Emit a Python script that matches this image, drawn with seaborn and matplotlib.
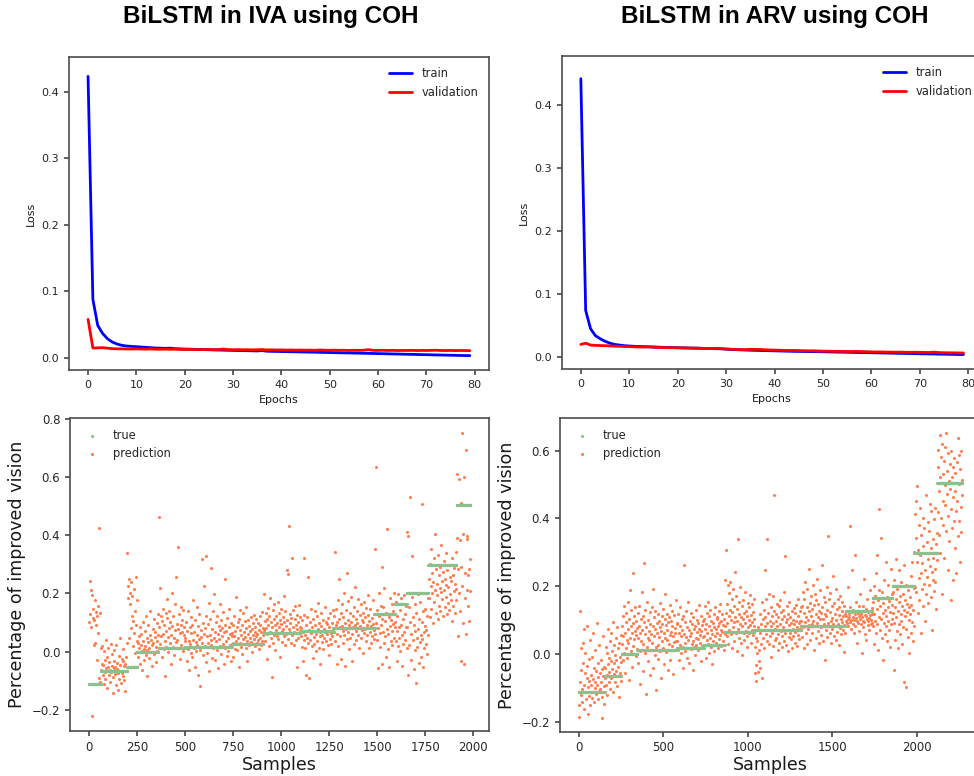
import numpy as np
import pandas as pd
import matplotlib
matplotlib.use("Agg")
import matplotlib.pyplot as plt
from matplotlib import font_manager
import seaborn as sns

# ---------------- data ----------------
epochs = list(range(80))

iva_train = [0.423, 0.088, 0.049, 0.037, 0.029, 0.024, 0.021, 0.019, 0.018, 0.0175,
             0.017, 0.0165, 0.016, 0.0155, 0.015, 0.0148, 0.0145, 0.0148, 0.014, 0.0138,
             0.0135, 0.0133, 0.013, 0.0128, 0.0126, 0.0124, 0.0122, 0.012, 0.0118, 0.0116,
             0.0114, 0.0113, 0.0111, 0.011, 0.0108, 0.0106, 0.0112, 0.0102, 0.0100, 0.0099,
             0.0097, 0.0096, 0.0094, 0.0093, 0.0091, 0.009, 0.0088, 0.0087, 0.0085, 0.0084,
             0.0082, 0.0080, 0.0079, 0.0077, 0.0076, 0.0074, 0.0073, 0.0071, 0.0070, 0.0068,
             0.0066, 0.0065, 0.0063, 0.0061, 0.0060, 0.0058, 0.0056, 0.0055, 0.0053, 0.0051,
             0.0050, 0.0048, 0.0046, 0.0045, 0.0043, 0.0042, 0.0040, 0.0038, 0.0037, 0.0036]
iva_val = [0.058, 0.015, 0.0152, 0.0155, 0.0148, 0.014, 0.0138, 0.0137, 0.0136, 0.0135,
           0.0138, 0.0134, 0.0133, 0.0136, 0.0132, 0.0131, 0.0134, 0.013, 0.0132, 0.0129,
           0.0128, 0.013, 0.0127, 0.0129, 0.0126, 0.0128, 0.0125, 0.0127, 0.0135, 0.0126,
           0.0124, 0.0126, 0.0123, 0.0125, 0.0122, 0.0124, 0.0127, 0.0121, 0.0123, 0.012,
           0.0122, 0.0119, 0.0121, 0.0118, 0.012, 0.0117, 0.0119, 0.0116, 0.0121, 0.0117,
           0.0116, 0.0118, 0.0115, 0.0117, 0.0114, 0.0116, 0.0115, 0.0117, 0.0126, 0.0115,
           0.0114, 0.0116, 0.0113, 0.0115, 0.0112, 0.0114, 0.0113, 0.0115, 0.0112, 0.0114,
           0.0113, 0.0115, 0.0117, 0.0113, 0.0112, 0.0114, 0.0111, 0.0113, 0.0112, 0.0111]

arv_train = [0.442, 0.074, 0.045, 0.034, 0.029, 0.025, 0.022, 0.020, 0.019, 0.018,
             0.0175, 0.017, 0.0168, 0.0165, 0.0162, 0.016, 0.0157, 0.0154, 0.0152, 0.015,
             0.0148, 0.0146, 0.0144, 0.0142, 0.014, 0.0138, 0.0136, 0.0134, 0.0132, 0.013,
             0.0125, 0.012, 0.0117, 0.0114, 0.0111, 0.0108, 0.0106, 0.0104, 0.0102, 0.010,
             0.0098, 0.0096, 0.0094, 0.0092, 0.009, 0.0089, 0.0088, 0.0087, 0.0086, 0.0085,
             0.0083, 0.0081, 0.008, 0.0078, 0.0077, 0.0075, 0.0074, 0.0072, 0.0071, 0.007,
             0.0068, 0.0066, 0.0065, 0.0063, 0.0062, 0.006, 0.0058, 0.0057, 0.0055, 0.0054,
             0.0052, 0.0051, 0.005, 0.0048, 0.0046, 0.0045, 0.0043, 0.0042, 0.004, 0.0039]
arv_val = [0.020, 0.022, 0.019, 0.0185, 0.0182, 0.018, 0.0177, 0.0172, 0.017, 0.0167,
           0.0165, 0.0162, 0.016, 0.0158, 0.0162, 0.0155, 0.0152, 0.015, 0.0148, 0.0147,
           0.0146, 0.0144, 0.0143, 0.0141, 0.0142, 0.0138, 0.0136, 0.0133, 0.0138, 0.0132,
           0.0128, 0.0124, 0.012, 0.0118, 0.0117, 0.0122, 0.0121, 0.012, 0.0115, 0.0112,
           0.011, 0.0108, 0.0105, 0.0103, 0.0104, 0.0102, 0.01, 0.0098, 0.0099, 0.0096,
           0.0093, 0.0092, 0.009, 0.0091, 0.0089, 0.0088, 0.0087, 0.009, 0.0086, 0.0085,
           0.0082, 0.008, 0.0081, 0.0079, 0.0078, 0.0077, 0.0078, 0.0076, 0.0075, 0.0077,
           0.0074, 0.0073, 0.0072, 0.0078, 0.007, 0.0068, 0.0067, 0.0066, 0.0065, 0.0064]

# true value steps: sample boundaries and level of each step
iva_bounds = [0, 62, 198, 250, 362, 500, 743, 908, 1100, 1272, 1489, 1592, 1653, 1766, 1913, 1985]
iva_levels = [-0.112, -0.066, -0.053, 0.0, 0.011, 0.016, 0.027, 0.065, 0.070, 0.080,
              0.128, 0.165, 0.200, 0.298, 0.505]
arv_bounds = [0, 156, 254, 347, 580, 737, 863, 1040, 1315, 1580, 1737, 1855, 1983, 2120, 2268]
arv_levels = [-0.112, -0.064, 0.0, 0.012, 0.016, 0.027, 0.066, 0.071, 0.081,
              0.128, 0.165, 0.200, 0.299, 0.504]

# predictions (in thousandths), one list per true step
iva_pred = [
    [102, 243, 128, 211, 84, 196, -223, 148, 117, 23, 109, 176, 31, 137, 93, -28, 121, 158, 64,
     425, -92, -104, 131, 12],
    [-63, -41, 18, -82, -47, -112, 3, -71, -28, -93, 39, -58, -17, -124, -52, 11, -79, -36, -64,
     -103, 27, -69, -48, -9, -88, -142, -57, -31, 4, -76, -53, -115, 22, -61, -39, -131, -72,
     -14, -94, -46, 47, -66, -107, -25, -74, -33, -85, 8, -51, -98, -137, -43, -19, -68, 31],
    [338, 183, 224, 251, 47, 203, 162, 238, 81, 124, 191, 18, 104, 214, 63, 141, -4, 257, 92, 35],
    [176, 31, -17, 54, 12, 83, -42, 24, 61, 3, -63, 38, 102, 9, -28, 72, 18, 124, -11, 47, 6,
     -84, 33, 91, 14, -23, 58, 138, -2, 41, -51, 22, 79, 28, -7, 113, 49, 66, 15, -36, 97, 37,
     1, 128, 57],
    [462, 83, 218, 27, 121, 53, -19, 104, 62, 147, 8, 93, 38, -83, 132, 71, 16, 114, 182, 49,
     -3, 139, 82, 29, 101, -42, 58, 203, 87, 17, 124, 46, -12, 163, 73, 258, 34, 96, 41, 77,
     361, 11, 128, 63, -27, 92, 154, 24, 68, 109, 2, 143, 56, 83, 35],
    [48, 17, 103, -31, 72, 9, 141, 38, -62, 84, 27, 118, -4, 63, -18, 92, 176, 41, 12, 69, -53,
     108, 33, 2, 152, 57, 21, -79, 88, 44, 129, 6, -118, 73, 51, 318, 29, 97, -13, 61, 224, 19,
     82, -37, 121, 329, 53, -6, 94, 31, 168, -68, 58, 113, 24, 287, 39, -22, 79, 138, 14, 47,
     197, -28, 67, 102, 36, 4, 123, 59, -58, 87, 42, 163, 18, 74, -9, 109, 52, 81, 26, 136, -44,
     66, 11, 92, 251, 37, 71, -16, 115, 48, 3, 84, 145, 22, 61, 98, -34, 55],
    [63, 28, 91, -18, 52, 124, 9, 71, 38, 187, 83, 4, 102, 47, -53, 113, 31, 74, 142, 16, 58,
     93, -7, 42, 131, 68, 26, 104, 51, 13, 82, 153, 37, -32, 61, 109, 21, 88, 46, 72, 118, 33,
     -2, 79, 57, 99, 43, 127, 66, 19, 86, 54, 112, 62, 29, 97, 39, 74, 8, 121, 48, 91, 24, 67,
     136, 35, 81, 57],
    [198, 73, 104, 38, 132, 81, -27, 113, 62, 151, 92, 18, 124, 69, 183, 47, 101, -88, 84, 142,
     29, 112, 58, 163, 91, 7, 121, 74, 53, 98, 172, 42, 83, 134, 63, -19, 109, 94, 148, 33, 71,
     119, 78, 191, 52, 103, 24, 139, 61, 88, 281, 107, 268, 44, 79, 432, 128, 67, 97, 31, 117,
     57, 322, 86, 143, 21, 68, 112, 156, 39, 92, -54, 76, 127, 48, 101, 161, 63, 84, 119],
    [52, 81, 17, 108, -31, 69, 41, 127, 321, 58, 12, 92, -82, 47, 118, 258, 28, 73, -91, 101,
     39, 63, 148, 19, 84, -23, 112, 49, 71, 26, 138, 93, 3, 61, 123, 37, 79, 168, 14, 97, 53,
     68, -42, 88, 131, 32, 57, 109, 8, 76, 46, 152, 67, 38, 103, 59, 94, 22, 117, 71, -12, 86,
     43, 134, 64, 27, 98, 55, 142, 78],
    [68, 123, 341, 37, 92, 148, -42, 102, 61, 178, 18, 113, 248, 83, 52, 131, -24, 89, 162, 71,
     28, 119, 203, 58, 97, -51, 142, 79, 271, 43, 108, 173, 67, 9, 91, 134, 48, 188, 103, 62,
     -33, 121, 84, 153, 27, 93, 221, 72, 112, 39, 138, 98, 57, 182, 81, 14, 126, 87, 163, 46,
     109, 74, 133, -4, 101, 171, 63, 118, 78, 149, 36, 92, 58, 127, 193, 82, 11, 104, 67, 146,
     31, 88, 116, 53, 177, 96, 42, 128, 73, 61],
    [352, 633, 98, 41, 143, -58, 82, 121, 203, 63, 17, 158, 91, 291, -43, 112, 68, 152, 28, 218,
     104, 53, -19, 131, 79, 421, 62, 9, 118, -52, 88, 183, 37, 109, 72, 162, 24, 96, 138, 47,
     201, 83],
    [103, 38, 171, 72, -31, 124, 18, 198, 83, 47, 142, 2, 91, 183, 58, -48, 112, 27, 193, 67,
     128, 41, 156, 86, 11],
    [412, 83, -82, 398, 152, 21, 532, 103, -28, 62, 187, 329, 41, 118, -61, 92, 4, 163, 71,
     -108, 131, 48, 17, 198, 79, -39, 112, 33, 172, 58, -17, 101, 508, 43, 138, -52, 67, 12, 89,
     146, 27, 74, -8, 121, 56, 183],
    [251, 183, 302, 118, 224, 352, 148, 271, 203, 97, 238, 321, 172, 403, 212, 131, 283, 193,
     232, 112, 331, 262, 158, 219, 291, 139, 204, 368, 243, 181, 122, 273, 312, 213, 152, 248,
     187, 338, 229, 128, 281, 168, 221, 298, 143, 258, 197, 178, 241, 106, 322, 263, 156, 209,
     287, 134, 232, 176, 344, 214],
    [391, 612, 283, 52, 593, 203, 382, 141, 512, -32, 291, 752, 224, 403, 98, -43, 601, 271,
     183, 61, 693, 398, 212, 388, 262, 157, 283, 104, 318, 207],
]

arv_pred = [
    [-187, -152, 128, -83, -121, 18, -47, -103, -143, 32, -28, 72, -91, -162, -58, 3, -112,
     -134, -37, 83, -72, -178, -98, -16, -124, -81, 41, -152, -63, -92, -8, -131, -113, 62, -74,
     -42, -141, -102, 12, -84, -119, -52, 91, -93, -27, -133, -68, -111, 27, -57, -104, -19,
     -82, -189, -46, -127, 53, -66, -96, -38, -148, -71],
    [-42, -91, 19, -63, -121, 2, -31, 72, -82, -12, -53, 38, -103, -21, 61, -72, -44, 8, -113,
     93, -28, -61, 27, -84, -3, -52, 48, -17, -94, 79, -39, 16, -66, -127, 33, -8, -57, 57, -24,
     -79],
    [28, 83, -19, 112, 52, 3, 141, 63, -58, 94, 17, 122, 41, -13, 72, 152, 31, -77, 103, 48,
     188, 8, 82, 131, -38, 61, 238, 92, 22, 113, 43, 67, 137, -6, 56, 98, 14, 76],
    [121, 48, -27, 83, 142, 9, 63, -88, 104, 37, 182, 71, -52, 112, 28, 268, 93, 2, 131, 58,
     -118, 79, 19, 153, 47, -21, 101, 68, 41, 123, -63, 87, 12, 59, 138, 32, 191, 82, -41, 109,
     52, -3, 128, 73, 21, -108, 92, 61, 117, 26, -14, 98, 49, 78, 149, 8, 67, -72, 113, 38, 88,
     17, 132, 62, -31, 103, 178, 46, 84, 4, 119, 42, 71, -47, 94, 29, 108, 57, 143, -17, 66, 97,
     23, 81, 127, -61, 52, 34, 114, 76, 11, 63, 158, 39, 89],
    [38, 91, 12, 118, 63, -17, 82, 27, 139, 52, 3, 103, 71, -42, 21, 112, 262, 58, 31, 94, 8,
     127, 49, -11, 78, 42, 152, 17, 69, -28, 98, 53, 13, 121, 61, 29, 87, -48, 37, 108, 72, 19,
     83, -2, 131, 47, 26, 101, 64, 11, 92, 43, 74, 143, 33, 57, -21, 112, 68, 24, 86, 51, 97],
    [52, 103, 18, 141, 73, -12, 89, 42, 122, 61, 152, 28, 81, 3, 113, 48, 131, 69, 21, 98, 58,
     -31, 92, 37, 118, 79, 9, 138, 53, 72, 31, 104, 62, 109, 17, 83, 128, 43, 91, 57, 147, 71,
     24, 96, 66, 118, 38, 84, 11, 102, 59],
    [218, 83, 121, 308, 52, 148, 91, 203, 28, 112, 181, 69, 131, 212, 58, 101, 163, 17, 123,
     192, 79, 142, 38, 93, 241, 108, 61, 172, 98, 9, 132, 338, 72, 118, 47, 153, 88, 198, 31,
     109, 141, 81, -2, 103, 158, 63, 122, 41, 92, 183, 68, 128, 21, 112, 53, 151, 78, 99, 62,
     137, 86, 174, 33, 116, 71, 94, 146, 57, 124, 83, 162, 104],
    [-58, 21, -32, 48, -81, 3, 39, -53, 78, 12, -22, 61, 118, -41, 88, 28, 152, 69, -72, 102,
     47, 131, 18, 83, 248, 109, 58, 162, 37, 338, 92, 121, 71, 178, 29, 98, 52, 139, -9, 81,
     112, 63, 172, 22, 91, 128, 468, 73, 42, 119, 97, 48, 148, 82, 11, 108, 59, 141, 32, 88,
     158, 67, 123, 19, 102, 53, 131, 79, 183, 38, 113, 62, 288, 93, 27, 142, 71, 104, 8, 118,
     49, 84, 153, 61, 109, 43, 92, 128, 17, 74, 101, 52, 136, 87, 33, 121, 66, 97, 143, 24, 79,
     112, 57, 162, 91, 44, 127, 73, 98, 138],
    [98, 142, 51, 183, 79, 121, 18, 162, 93, 212, 63, 108, 139, 28, 192, 101, 72, 128, 252, 84,
     151, 41, 113, 172, 88, 61, 132, 203, 97, 12, 143, 82, 178, 119, 48, 158, 91, 221, 68, 109,
     148, 31, 127, 103, 188, 57, 122, 78, 262, 138, 39, 102, 168, 87, 118, -18, 152, 71, 112,
     198, 49, 131, 92, 348, 161, 83, 124, 62, 181, 98, 33, 141, 73, 107, 231, 89, 52, 149, 118,
     81, 193, 42, 99, 133, 64, 163, 88, 114, 27, 137, 76, 172, 103, 58, 126, 93, 154, 69, 112,
     4, 141, 84, 119, 61, 97],
    [112, 91, 128, 103, 198, 83, 119, 108, 378, 94, 138, 101, 72, 123, 248, 109, 88, 131, 62,
     99, 291, 117, 81, 106, 152, 97, 31, 121, 92, 141, 113, 68, 178, 102, 127, 89, 118, 3, 109,
     79, 142, 98, 221, 93, 116, 58, 111, 133, 42, 104, 162, 84, 124, 96, 107, 71, 189, 114, 87,
     101, 136, 92, 118],
    [152, 83, 201, 118, 28, 171, 98, 238, 62, 132, 291, 87, 158, 12, 109, 428, 188, 71, 141,
     342, 102, 48, 183, 121, -18, 149, 92, 218, 58, 129, 272, 81, 112, 168, 38, 138, 97, 203,
     69, 157, 21, 124, 251, 89, 178, 104, 143],
    [121, 183, -48, 92, 218, 138, 41, 162, 281, 109, 68, 192, 128, 17, 152, 248, 87, 171, 58,
     118, 212, 98, 28, 141, 178, 79, 262, 131, -83, 112, 158, -98, 203, 72, 123, 148, 49, 188,
     101, 139, 3, 168, 117, 231, 62, 143, 94, 272, 37, 129, 82, 196],
    [301, 412, 198, 342, 453, 182, 271, 497, 121, 308, 224, 381, 158, 292, 431, 238, 62, 352,
     193, 268, 401, 141, 318, 207, 372, 248, 98, 298, 468, 178, 331, 228, 389, 281, 151, 362,
     203, 442, 259, 312, 168, 421, 241, 71, 338, 219, 282, 398, 187, 251, 432, 211, 324, 133,
     358, 276],
    [552, 418, 603, 351, 482, 648, 298, 521, 583, 402, 178, 621, 453, 532, 381, 571, 283, 498,
     612, 441, 652, 362, 541, 472, 248, 592, 408, 512, 332, 561, 488, 158, 428, 598, 371, 522,
     462, 218, 551, 391, 578, 481, 312, 533, 421, 238, 568, 452, 348, 638, 503, 392, 588, 272,
     547, 433, 598, 361, 514, 468],
]

titles = ["BiLSTM in IVA using COH", "BiLSTM in ARV using COH"]

# ---------------- helpers ----------------
def true_frame(bounds, levels):
    xs, ys = [], []
    for a, b, lv in zip(bounds[:-1], bounds[1:], levels):
        xs.extend(range(a, b))
        ys.extend([lv] * (b - a))
    return pd.DataFrame({"Samples": xs, "value": ys})


def pred_frame(bounds, pred):
    xs, ys = [], []
    for a, b, vals in zip(bounds[:-1], bounds[1:], pred):
        idx = np.linspace(a, b, len(vals), endpoint=False) + (b - a) / len(vals) / 2
        xs.extend(np.round(idx).tolist())
        ys.extend([v / 1000.0 for v in vals])
    return pd.DataFrame({"Samples": xs, "value": ys})


# ---------------- style ----------------
sns.set_theme(style="ticks")
plt.rcParams["font.family"] = ["DejaVu Sans"]
plt.rcParams.update({
    "axes.edgecolor": "0.3",
    "axes.linewidth": 1.2,
    "xtick.color": "0.3",
    "ytick.color": "0.3",
    "xtick.labelcolor": "0.15",
    "ytick.labelcolor": "0.15",
    "xtick.major.size": 3.5,
    "ytick.major.size": 3.5,
    "text.color": "0.15",
    "axes.labelcolor": "0.1",
})

avail = {f.name for f in font_manager.fontManager.ttflist}
title_font = "Liberation Sans Narrow" if "Liberation Sans Narrow" in avail else "Liberation Sans"
title_size = 21 if title_font == "Liberation Sans Narrow" else 17.5

fig = plt.figure(figsize=(9.74, 7.76), dpi=100)
ax_tl = fig.add_axes([0.0708, 0.5232, 0.4312, 0.4033])
ax_tr = fig.add_axes([0.5767, 0.5245, 0.4321, 0.4033])
ax_bl = fig.add_axes([0.0719, 0.0580, 0.4303, 0.4030])
ax_br = fig.add_axes([0.5750, 0.0571, 0.4322, 0.4039])

# ---------------- loss plots ----------------
for ax, tr, va, ylim in [(ax_tl, iva_train, iva_val, (-0.018, 0.452)),
                         (ax_tr, arv_train, arv_val, (-0.019, 0.478))]:
    sns.lineplot(x=epochs, y=tr, color="blue", lw=2, label="train", ax=ax)
    sns.lineplot(x=epochs, y=va, color="red", lw=2, label="validation", ax=ax)
    ax.set_xlim(-3.95, 82.95)
    ax.set_ylim(*ylim)
    ax.set_xticks(range(0, 81, 10))
    ax.set_yticks([0.0, 0.1, 0.2, 0.3, 0.4])
    ax.tick_params(labelsize=8)
    ax.set_xlabel("Epochs", fontsize=8)
    ax.set_ylabel("Loss", fontsize=8)
    ax.legend(loc="upper right", frameon=False, fontsize=8.3)

# ---------------- scatter plots ----------------
true_col = "#8cc08c"
pred_col = "#ff7f50"
for ax, bounds, levels, pred, xlim, ylim, yt in [
        (ax_bl, iva_bounds, iva_levels, iva_pred, (-99, 2082), (-0.273, 0.802),
         [-0.2, 0.0, 0.2, 0.4, 0.6, 0.8]),
        (ax_br, arv_bounds, arv_levels, arv_pred, (-110, 2378), (-0.23, 0.696),
         [-0.2, 0.0, 0.2, 0.4, 0.6])]:
    tdf = true_frame(bounds, levels)
    pdf = pred_frame(bounds, pred)
    sns.scatterplot(data=tdf, x="Samples", y="value", color=true_col, s=5,
                    linewidth=0, label="true", ax=ax, zorder=3)
    sns.scatterplot(data=pdf, x="Samples", y="value", color=pred_col, s=5,
                    linewidth=0, label="prediction", ax=ax, zorder=2)
    ax.set_xlim(*xlim)
    ax.set_ylim(*ylim)
    ax.set_yticks(yt)
    ax.tick_params(labelsize=8.5)
    ax.set_xlabel("Samples", fontsize=12.6, labelpad=1.5)
    ax.set_ylabel("Percentage of improved vision", fontsize=12.6)
    ax.legend(loc="upper left", frameon=False, fontsize=8.3)

ax_bl.set_xticks([0, 250, 500, 750, 1000, 1250, 1500, 1750, 2000])
ax_br.set_xticks([0, 500, 1000, 1500, 2000])

fig.text(271 / 974, 1 - 16 / 776, titles[0], ha="center", va="center",
         fontsize=title_size, fontweight="bold", family=title_font, color="black")
fig.text(775 / 974, 1 - 16 / 776, titles[1], ha="center", va="center",
         fontsize=title_size, fontweight="bold", family=title_font, color="black")

fig.savefig("out.png", dpi=100)
